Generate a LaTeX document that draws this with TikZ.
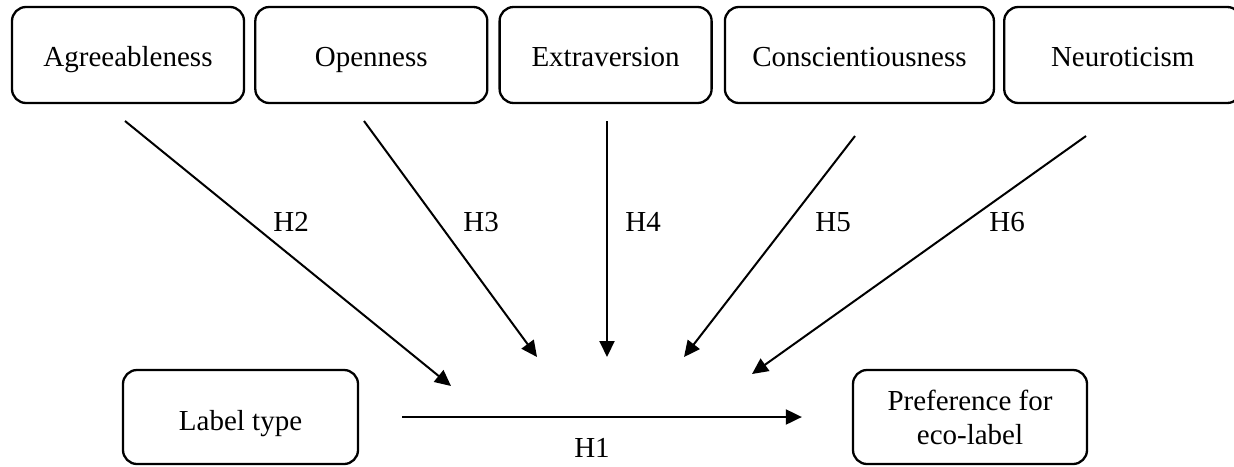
\documentclass[tikz,border=0pt]{standalone}
\usepackage{fontspec}
\setmainfont{Liberation Serif}
\usepackage{tikz}
\usetikzlibrary{arrows.meta, positioning}

\begin{document}
\begin{tikzpicture}[x=0.5pt, y=-0.5pt,
    every node/.style={font=\fontsize{14.5}{17}\selectfont},
    trait/.style={draw, line width=1.15pt, rounded corners=7pt, minimum height=48pt, inner sep=0pt, align=center, text height=11pt, text depth=0pt},
    link/.style={-{Triangle[length=8pt, width=7.5pt]}, line width=1pt},
    hyp/.style={anchor=west, inner sep=0pt}]
    \useasboundingbox (0,0) rectangle (1234,466);

    % personality traits
    \node[trait, minimum width=116pt] (agree) at (128,55) {Agreeableness};
    \node[trait, minimum width=116pt, right=4.5pt of agree] (open) {Openness};
    \node[trait, minimum width=106pt, right=5pt of open] (extra) {Extraversion};
    \node[trait, minimum width=134.5pt, right=5.5pt of extra] (consc) {Conscientiousness};
    \node[trait, minimum width=118.5pt, right=4pt of consc] (neuro) {Neuroticism};

    % main relation
    \node[trait, minimum width=117.5pt, minimum height=47pt, text height=13pt] (label) at (240.5,417) {Label type};
    \node[trait, minimum width=117pt, minimum height=47pt, text height=, text depth=] (pref) at (970,417) {Preference for\\eco-label};

    \draw[link, shorten <=21.5pt, shorten >=25pt] (label) -- (pref);
    \node[anchor=center, inner sep=0pt] (h1) at (592,448) {H1};

    % moderators
    \coordinate (agree-s) at (125,121);
    \coordinate (agree-e) at (451,386);
    \coordinate (open-s) at (364,121);
    \coordinate (open-e) at (537,357);
    \coordinate (extra-s) at (607,121);
    \coordinate (extra-e) at (607,357);
    \coordinate (consc-s) at (855,136);
    \coordinate (consc-e) at (684,357);
    \coordinate (neuro-s) at (1086,136);
    \coordinate (neuro-e) at (752,374);

    \draw[link] (agree-s) -- (agree-e);
    \draw[link] (open-s) -- (open-e);
    \draw[link] (extra-s) -- (extra-e);
    \draw[link] (consc-s) -- (consc-e);
    \draw[link] (neuro-s) -- (neuro-e);

    \node[hyp] (h2) at (273,222) {H2};
    \node[hyp] (h3) at (463,222) {H3};
    \node[hyp] (h4) at (625,222) {H4};
    \node[hyp] (h5) at (815,222) {H5};
    \node[hyp] (h6) at (989,222) {H6};
  \end{tikzpicture}
\end{document}
